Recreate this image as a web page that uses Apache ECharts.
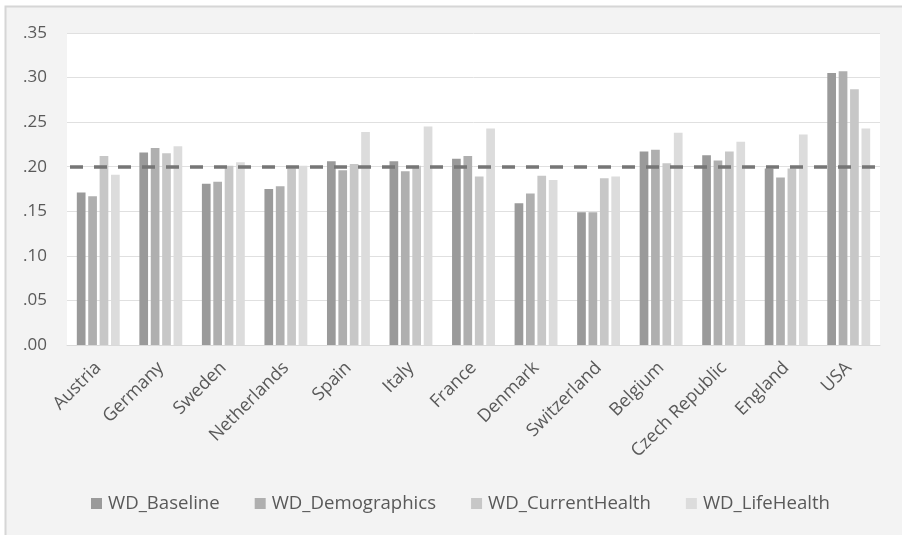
<!DOCTYPE html>
<html>
<head>
<meta charset="utf-8">
<script src="https://cdn.jsdelivr.net/npm/echarts@6/dist/echarts.min.js"></script>
<style>
  html, body { margin: 0; padding: 0; background: #ffffff; }
  #chart { width: 902px; height: 535px; }
</style>
</head>
<body>
<div id="chart"></div>
<script>
// Countries along the x axis
const countries = ['Austria', 'Germany', 'Sweden', 'Netherlands', 'Spain', 'Italy', 'France',
  'Denmark', 'Switzerland', 'Belgium', 'Czech Republic', 'England', 'USA'];

// Values per model variant
const wdBaseline      = [0.171, 0.216, 0.181, 0.175, 0.206, 0.206, 0.209, 0.159, 0.149, 0.217, 0.213, 0.198, 0.305];
const wdDemographics  = [0.167, 0.221, 0.183, 0.178, 0.196, 0.195, 0.212, 0.170, 0.149, 0.219, 0.207, 0.188, 0.307];
const wdCurrentHealth = [0.212, 0.215, 0.201, 0.198, 0.203, 0.201, 0.189, 0.190, 0.187, 0.204, 0.217, 0.198, 0.287];
const wdLifeHealth    = [0.191, 0.223, 0.205, 0.201, 0.239, 0.245, 0.243, 0.185, 0.189, 0.238, 0.228, 0.236, 0.243];

// Overall reference level drawn as a dashed line
const referenceLevel = 0.202;

// Y axis tick labels, from 0 upward in steps of .05
const yTickLabels = ['.00', '.05', '.10', '.15', '.20', '.25', '.30', '.35'];

const seriesNames = ['WD_Baseline', 'WD_Demographics', 'WD_CurrentHealth', 'WD_LifeHealth'];
const seriesValues = [wdBaseline, wdDemographics, wdCurrentHealth, wdLifeHealth];
const seriesColors = ['#9a9a9a', '#afafaf', '#c7c7c7', '#dcdcdc'];

const FONT = 'Open Sans';
const TEXT = '#595959';

const chart = echarts.init(document.getElementById('chart'), null, { renderer: 'canvas' });

const series = seriesNames.map((name, i) => ({
  name: name,
  type: 'bar',
  data: seriesValues[i],
  barWidth: 8.7,
  barGap: '31%',
  itemStyle: { color: seriesColors[i] },
  emphasis: { disabled: true },
  z: 3
}));

series[0].markLine = {
  silent: true,
  symbol: 'none',
  label: { show: false },
  lineStyle: { color: '#767676', width: 3.5, type: [13, 11], dashOffset: -3 },
  data: [{ yAxis: referenceLevel }],
  z: 5
};

chart.setOption({
  animation: false,
  backgroundColor: '#ffffff',
  graphic: [{
    type: 'rect',
    z: -10,
    shape: { x: 5.5, y: 6.5, width: 1200, height: 1200 },
    style: { fill: '#f3f3f3', stroke: '#d6d6d6', lineWidth: 2 }
  }],
  grid: {
    left: 67, right: 22, top: 33, bottom: 190,
    show: true, backgroundColor: '#ffffff', borderWidth: 0
  },
  legend: {
    data: seriesNames,
    left: 91, top: 494,
    padding: 0,
    icon: 'rect',
    itemWidth: 11, itemHeight: 11,
    itemGap: 35,
    textStyle: { fontFamily: FONT, fontSize: 18.6, color: TEXT, padding: [0, 0, 0, 1] }
  },
  xAxis: {
    type: 'category',
    data: countries,
    axisLine: { show: true, lineStyle: { color: '#d9d9d9', width: 1 } },
    axisTick: { show: false },
    axisLabel: {
      rotate: 45, margin: 20, interval: 0,
      fontFamily: FONT, fontSize: 18, color: TEXT
    }
  },
  yAxis: {
    type: 'value',
    min: 0, max: 0.35, interval: 0.05,
    axisLine: { show: false },
    axisTick: { show: false },
    splitLine: { lineStyle: { color: '#e0e0e0', width: 1 } },
    axisLabel: {
      margin: 20,
      fontFamily: FONT, fontSize: 17, color: TEXT,
      formatter: v => yTickLabels[Math.round(v / 0.05)]
    }
  },
  series: series
});
</script>
</body>
</html>
